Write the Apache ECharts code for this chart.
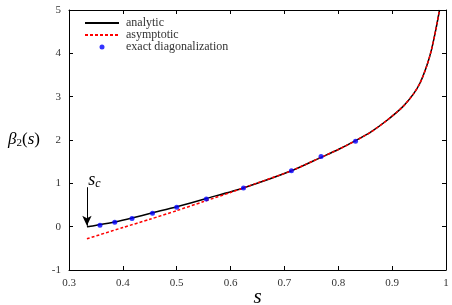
<!DOCTYPE html>
<html><head><meta charset="utf-8">
<script src="https://cdn.jsdelivr.net/npm/echarts@6/dist/echarts.min.js"></script>
<style>html,body{margin:0;padding:0;background:#fff}#c{width:452px;height:305px}</style>
</head><body><div id="c"></div>
<script>
// analytic curve
var analyticS = [0.3333,0.34,0.3575,0.385,0.417,0.455,0.5,0.555,0.625,0.713,0.768,0.8,0.833,0.86,0.89,0.92,0.94,0.952,0.964,0.973,0.981,0.988];
var analyticB = [0.0,0.01,0.05,0.11,0.20,0.32,0.46,0.65,0.90,1.29,1.60,1.78,1.99,2.18,2.45,2.77,3.07,3.32,3.70,4.08,4.54,5.0];
// asymptotic curve
var asymS = [0.3333,0.4,0.45,0.5,0.55,0.6,0.65,0.713,0.768,0.8,0.833,0.86,0.89,0.92,0.94,0.952,0.964,0.973,0.981,0.988];
var asymB = [-0.28,-0.02,0.17,0.37,0.58,0.79,1.01,1.29,1.60,1.78,1.99,2.18,2.45,2.77,3.07,3.32,3.70,4.08,4.54,5.0];
// exact diagonalization
var exactS = [0.3575,0.385,0.417,0.455,0.5,0.555,0.624,0.713,0.768,0.832];
var exactB = [0.03,0.10,0.19,0.31,0.45,0.64,0.89,1.29,1.62,1.97];
var xTicks = [0.3,0.4,0.5,0.6,0.7,0.8,0.9,1];
var yTicks = [-1,0,1,2,3,4,5];
var sc = 0.3333;

function zip(a,b){return a.map(function(v,i){return [v,b[i]];});}
var serif = 'Liberation Serif';
var axisCommon = {
  type:'value', axisLine:{show:true,onZero:false,lineStyle:{color:'#000',width:1}},
  axisTick:{show:true,inside:true,length:4,lineStyle:{color:'#000'}},
  splitLine:{show:false}
};
var chart = echarts.init(document.getElementById('c'),null,{renderer:'canvas'});
chart.setOption({
  animation:false,
  grid:{left:69,right:6,top:10,bottom:35,containLabel:false,outerBoundsMode:'none'},
  xAxis:[
    Object.assign({},axisCommon,{min:0.3,max:1,interval:0.1,position:'bottom',
      axisLabel:{color:'#333',fontFamily:serif,fontSize:11,margin:8,formatter:function(v){return String(Math.round(v*10)/10);}},
      name:'s',nameLocation:'middle',nameGap:17,nameMoveOverlap:false,
      nameTextStyle:{fontFamily:serif,fontStyle:'italic',fontSize:21,color:'#000'}}),
    Object.assign({},axisCommon,{min:0.3,max:1,interval:0.1,position:'top',axisLabel:{show:false}})
  ],
  yAxis:[
    Object.assign({},axisCommon,{min:-1,max:5,interval:1,position:'left',
      axisLabel:{color:'#333',fontFamily:serif,fontSize:11,margin:8},
      name:'{b|β}{sub|2}{p|(}{i|s}{p|)}',nameLocation:'middle',nameRotate:0,nameGap:29,nameMoveOverlap:false,
      nameTextStyle:{rich:{b:{fontFamily:serif,fontStyle:'italic',fontSize:17,color:'#000'},
        sub:{fontFamily:serif,fontSize:11,color:'#000',verticalAlign:'bottom',padding:[7,0,0,0]},
        p:{fontFamily:serif,fontSize:17,color:'#000'},
        i:{fontFamily:serif,fontStyle:'italic',fontSize:17,color:'#000'}}}}),
    Object.assign({},axisCommon,{min:-1,max:5,interval:1,position:'right',axisLabel:{show:false}})
  ],
  legend:{orient:'vertical',left:79,top:12,itemWidth:34,itemHeight:5,itemGap:0,
    textStyle:{fontFamily:serif,fontSize:12,lineHeight:12,color:'#333',padding:[0,0,0,2]},
    data:[{name:'analytic',itemStyle:{opacity:0}},{name:'asymptotic',itemStyle:{opacity:0}},{name:'exact diagonalization',icon:'circle'}]},
  series:[
    {name:'analytic',type:'line',data:zip(analyticS,analyticB),symbol:'none',smooth:0.25,
      lineStyle:{color:'#000',width:1.5},itemStyle:{color:'#000'},clip:true,z:2,
      markLine:{silent:true,symbol:['none','arrow'],symbolSize:[7,10],
        lineStyle:{color:'#000',width:1,type:'solid'},label:{show:false},
        data:[[{coord:[sc,0.91]},{coord:[sc,0.02]}]]},
      markPoint:{silent:true,symbol:'circle',symbolSize:1,itemStyle:{color:'rgba(0,0,0,0)'},
        label:{show:true,position:'inside',formatter:'{a|s}{c|c}',
          rich:{a:{fontFamily:serif,fontStyle:'italic',fontSize:18,color:'#000'},
                c:{fontFamily:serif,fontStyle:'italic',fontSize:12,color:'#000',verticalAlign:'bottom',padding:[7,0,0,0]}}},
        data:[{coord:[0.347,1.08]}]}
    },
    {name:'asymptotic',type:'line',data:zip(asymS,asymB),symbol:'none',smooth:0.25,
      lineStyle:{color:'#ff0000',width:1.5,type:[3,2]},itemStyle:{color:'#ff0000'},clip:true,z:3},
    {name:'exact diagonalization',type:'scatter',data:zip(exactS,exactB),symbol:'circle',symbolSize:5,
      itemStyle:{color:'#0000ff'},z:4}
  ]
});
</script></body></html>
